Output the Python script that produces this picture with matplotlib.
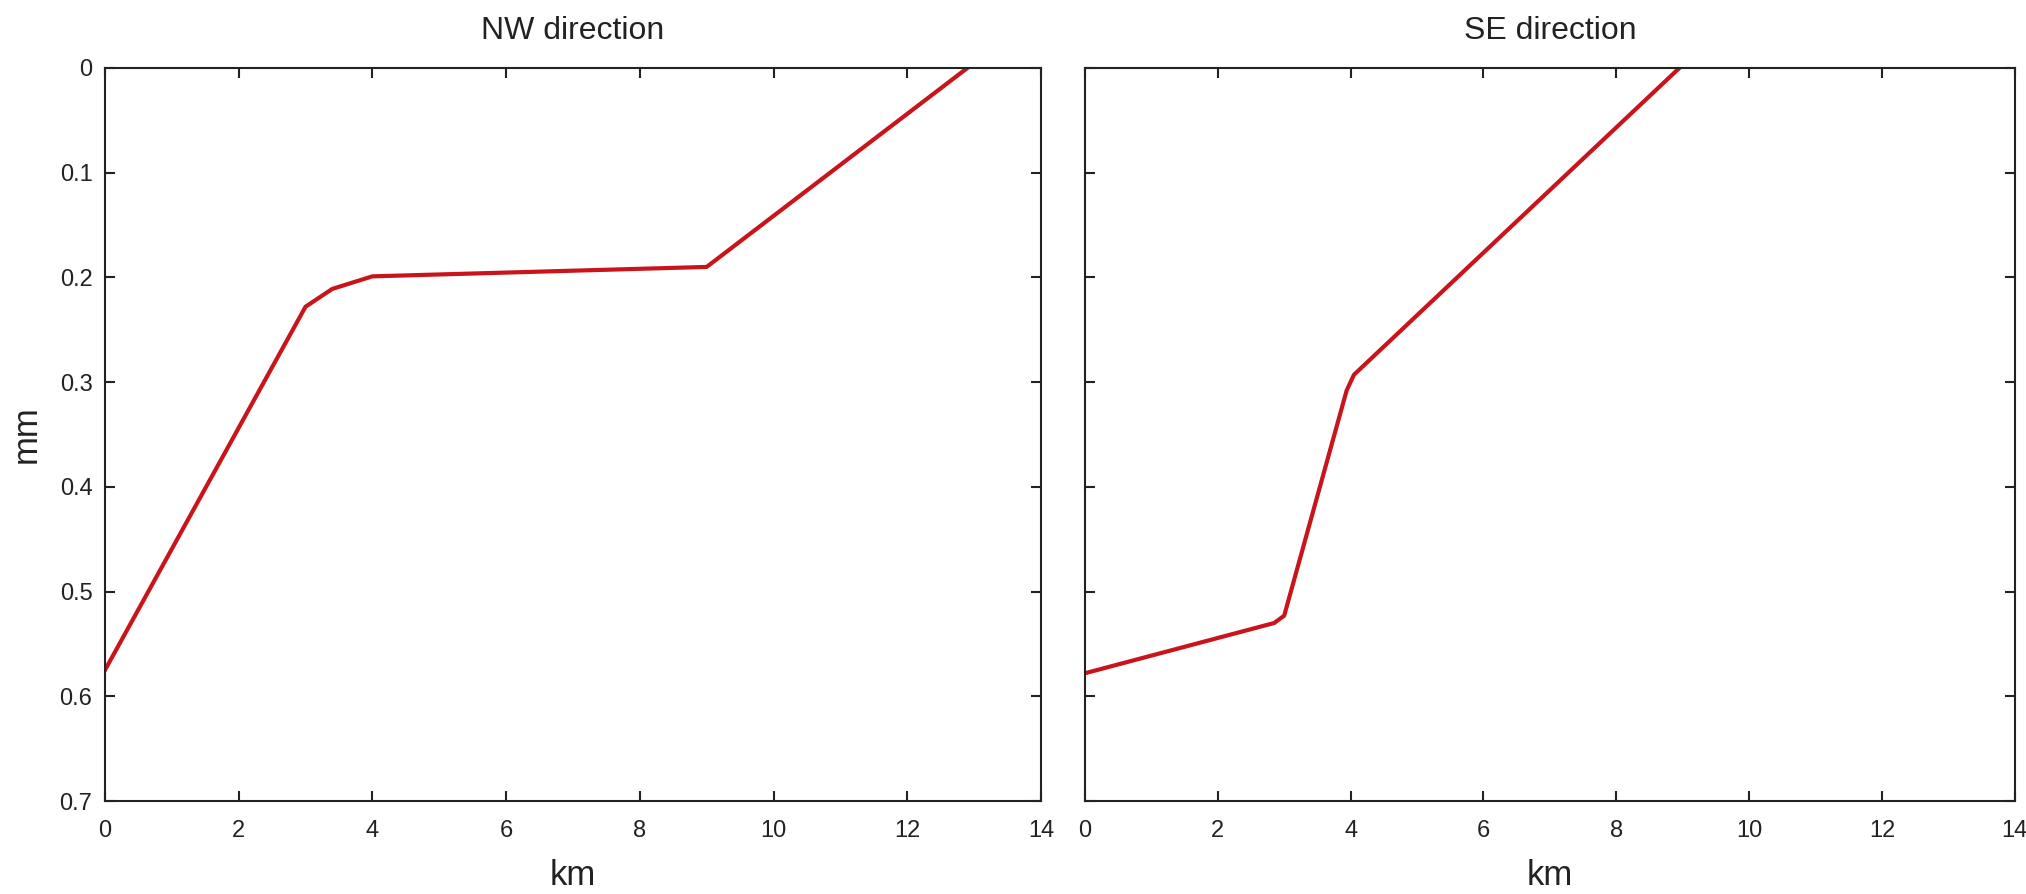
import matplotlib
matplotlib.use('Agg')
import matplotlib.pyplot as plt

plt.rcParams['font.family'] = ['Liberation Sans', 'DejaVu Sans']

# displacement profiles
nw_km = [0, 3.0, 3.4, 4.0, 9.0, 12.9]
nw_mm = [0.575, 0.228, 0.211, 0.199, 0.190, 0.0]

se_km = [0, 2.85, 3.0, 3.94, 4.05, 8.95]
se_mm = [0.578, 0.530, 0.523, 0.308, 0.293, 0.0]

x_ticks = [0, 2, 4, 6, 8, 10, 12, 14]
y_ticks = [0, 0.1, 0.2, 0.3, 0.4, 0.5, 0.6, 0.7]
y_labels = ['0', '0.1', '0.2', '0.3', '0.4', '0.5', '0.6', '0.7']

line_color = '#c8141a'

fig = plt.figure(figsize=(20.26, 8.94), dpi=100)
ax1 = fig.add_axes([0.0518, 0.104, 0.462, 0.820])
ax2 = fig.add_axes([0.5355, 0.104, 0.459, 0.820])

panels = [(ax1, nw_km, nw_mm, 'NW direction'), (ax2, se_km, se_mm, 'SE direction')]
for ax, x, y, title in panels:
    ax.plot(x, y, color=line_color, linewidth=3, solid_joinstyle='round')
    ax.set_xlim(0, 14)
    ax.set_ylim(0.7, 0)
    ax.set_xticks(x_ticks)
    ax.set_xticklabels([str(t) for t in x_ticks])
    ax.set_yticks(y_ticks)
    ax.tick_params(direction='in', top=True, right=True, length=7, width=1.5,
                   labelsize=17, colors='#222222')
    ax.tick_params(axis='x', pad=14)
    ax.tick_params(axis='y', pad=9)
    for s in ax.spines.values():
        s.set_linewidth(1.5)
        s.set_color('#222222')
    ax.set_title(title, fontsize=23, pad=21, color='#222222')
    ax.set_xlabel('km', fontsize=25, labelpad=12, color='#222222')

ax1.set_yticklabels(y_labels)
ax1.set_ylabel('mm', fontsize=25, labelpad=12, color='#222222')
ax2.set_yticklabels([])

fig.savefig('out.png', dpi=100)
